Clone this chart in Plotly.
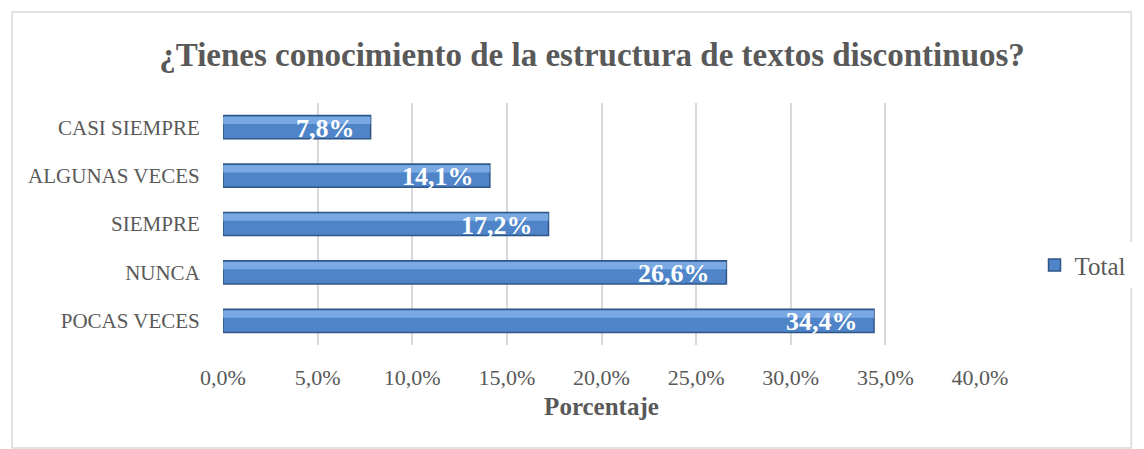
import plotly.graph_objects as go

categories = ["POCAS VECES", "NUNCA", "SIEMPRE", "ALGUNAS VECES", "CASI SIEMPRE"]
values = [34.4, 26.6, 17.2, 14.1, 7.8]
tick_vals = [0, 5, 10, 15, 20, 25, 30, 35, 40]
tick_text = [f"{v:.1f}%".replace(".", ",") for v in tick_vals]
value_labels = [f"{v:.1f}%".replace(".", ",") for v in values]

FONT = "Liberation Serif"
GRAY = "#595959"
fig = go.Figure()
fig.add_trace(go.Bar(
    y=categories, x=values, orientation="h", name="Total",
    marker=dict(color="#4F85C8", line=dict(color="#2F5587", width=1.5)),
    width=0.48, textposition="none",
    showlegend=True,
))
# highlight strip to mimic the bevelled look
fig.add_trace(go.Bar(
    y=categories, x=values, orientation="h", name="hl",
    marker=dict(color="rgba(135,180,235,0.75)", line=dict(width=0)),
    width=0.15, offset=0.065, textposition="none",
    showlegend=False, hoverinfo="skip",
))

annotations = [
    dict(x=v, y=c, xref="x", yref="y", text=f"<b>{t}</b>", showarrow=False,
         xanchor="right", yanchor="middle", xshift=-14, yshift=-1,
         font=dict(family=FONT, size=26, color="white"))
    for v, c, t in zip(values, categories, value_labels)
]

fig.update_layout(
    width=1136, height=441,
    margin=dict(l=215, r=160, t=95, b=104),
    paper_bgcolor="white", plot_bgcolor="white",
    barmode="overlay",
    title=dict(text="<b>¿Tienes conocimiento de la estructura de textos discontinuos?</b>",
               x=0.4875, xref="paper", xanchor="center", y=0.895, yanchor="middle",
               font=dict(family=FONT, size=33, color=GRAY)),
    xaxis=dict(range=[0, 40], tickvals=tick_vals, ticktext=tick_text,
               showgrid=True, gridcolor="#D9D9D9", gridwidth=1.5, zeroline=False,
               showline=False,
               tickfont=dict(family=FONT, size=22, color=GRAY),
               ticks="outside", ticklen=13, tickcolor="white",
               title=dict(text="<b>Porcentaje</b>", standoff=8,
                          font=dict(family=FONT, size=25, color=GRAY))),
    yaxis=dict(tickfont=dict(family=FONT, size=21, color=GRAY),
               ticks="outside", ticklen=18, tickcolor="white",
               showline=False, range=[-0.5, 4.5]),
    legend=dict(x=1.072, y=0.33, xanchor="left", yanchor="middle",
                font=dict(family=FONT, size=25, color=GRAY),
                itemwidth=30),
    annotations=annotations,
    shapes=[dict(type="rect", xref="paper", yref="paper",
                 x0=-0.2786, x1=1.1997, y0=-0.4256, y1=1.376,
                 line=dict(color="#D9D9D9", width=1.5), fillcolor="rgba(0,0,0,0)")],
)
fig.write_html("out.html")
